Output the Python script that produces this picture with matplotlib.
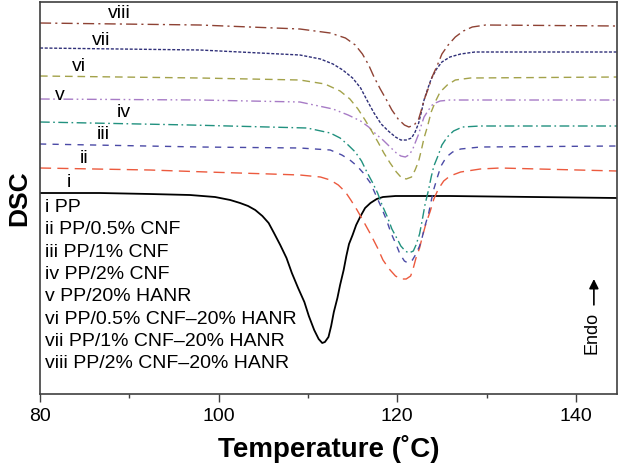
import matplotlib
matplotlib.use("Agg")
import matplotlib.pyplot as plt
from matplotlib.ticker import MultipleLocator

plt.rcParams['font.family'] = ['Liberation Sans', 'DejaVu Sans']

# DSC cooling curves (arbitrary units, stacked)
temp_i = [80.0, 86.7, 92.3, 96.8, 99.6, 101.3, 102.4, 103.3, 104.1, 104.9, 105.6, 106.2,
          106.9, 107.6, 108.2, 108.9, 109.6, 110.1, 110.7, 111.2, 111.6, 111.9, 112.3, 112.6,
          112.9, 113.3, 113.6, 114.0, 114.3, 114.6, 115.0, 115.4, 115.9, 116.4, 117.0, 117.7,
          118.4, 119.8, 125.9, 144.6]
dsc_i = [20.1, 20.1, 20.0, 19.9, 19.7, 19.4, 19.1, 18.8, 18.4, 17.8, 17.1, 16.1,
         14.9, 13.6, 12.1, 10.6, 9.2, 7.8, 6.4, 5.5, 5.1, 5.2, 5.7, 6.8,
         8.2, 9.6, 10.9, 12.4, 13.8, 15.0, 15.9, 16.9, 17.8, 18.6, 19.1, 19.5,
         19.7, 19.8, 19.8, 19.6]

temp_ii = [80.0, 92.3, 98.7, 105.8, 109.1, 111.4, 112.5, 113.4, 114.2, 114.8, 115.5, 116.2,
           117.0, 117.8, 118.4, 119.1, 119.8, 120.4, 121.0, 121.5, 121.8, 122.1, 122.5, 122.8,
           123.2, 123.7, 124.1, 124.6, 125.2, 125.9, 127.1, 129.3, 131.5, 144.6]
dsc_ii = [22.6, 22.4, 22.2, 22.0, 21.9, 21.7, 21.4, 20.9, 20.2, 19.4, 18.4, 17.3,
          16.0, 14.6, 13.4, 12.5, 11.8, 11.5, 11.5, 11.8, 12.6, 13.6, 14.6, 15.7,
          17.0, 18.3, 19.5, 20.5, 21.3, 21.8, 22.2, 22.5, 22.6, 22.3]

temp_iii = [80.0, 97.9, 109.1, 112.5, 113.8, 114.7, 115.5, 116.2, 117.0, 117.6, 118.2, 118.8,
            119.3, 119.9, 120.3, 120.8, 121.2, 121.7, 122.1, 122.5, 122.8, 123.1, 123.5, 123.8,
            124.1, 124.5, 124.9, 125.5, 126.2, 127.1, 129.3, 144.6]
dsc_iii = [25.0, 24.7, 24.6, 24.4, 23.9, 23.4, 22.8, 22.1, 21.1, 19.9, 18.7, 17.4,
           16.1, 14.9, 14.0, 13.3, 13.1, 13.4, 14.0, 14.8, 15.7, 16.8, 18.0, 19.3,
           20.5, 21.7, 22.8, 23.7, 24.2, 24.5, 24.7, 24.8]

temp_iv = [80.0, 96.8, 109.9, 112.5, 113.6, 114.5, 115.3, 116.0, 116.6, 117.2, 117.8, 118.3,
           118.9, 119.4, 120.0, 120.4, 120.9, 121.3, 121.8, 122.1, 122.5, 122.8, 123.1, 123.5,
           123.8, 124.1, 124.6, 125.0, 125.6, 126.3, 127.3, 129.3, 144.6]
dsc_iv = [27.2, 26.9, 26.6, 26.1, 25.6, 24.9, 24.2, 23.3, 22.2, 21.2, 20.1, 18.9,
          17.7, 16.5, 15.5, 14.8, 14.3, 14.1, 14.3, 14.9, 16.0, 17.4, 18.9, 20.4,
          21.7, 22.8, 23.9, 24.9, 25.7, 26.3, 26.7, 26.8, 26.8]

temp_v = [80.0, 97.9, 109.1, 112.8, 114.5, 115.9, 116.8, 117.6, 118.4, 119.2, 119.9, 120.4,
          120.9, 121.3, 121.7, 122.0, 122.4, 122.7, 123.0, 123.5, 124.0, 124.8, 125.9, 144.6]
dsc_v = [29.5, 29.4, 29.2, 28.5, 27.9, 27.3, 26.7, 26.0, 25.4, 24.7, 24.1, 23.8,
         23.7, 23.9, 24.4, 25.1, 26.0, 26.9, 27.7, 28.4, 29.0, 29.3, 29.4, 29.4]

temp_vi = [80.0, 97.9, 109.1, 111.9, 113.6, 114.7, 115.6, 116.4, 117.2, 117.9, 118.5, 119.2,
           119.9, 120.4, 121.0, 121.6, 122.0, 122.4, 122.7, 123.0, 123.4, 123.8, 124.3, 124.8,
           125.6, 126.5, 128.2, 144.6]
dsc_vi = [31.8, 31.6, 31.4, 31.0, 30.3, 29.5, 28.5, 27.4, 26.2, 25.1, 24.1, 23.1,
          22.2, 21.7, 21.5, 21.7, 22.4, 23.3, 24.4, 25.6, 26.8, 28.2, 29.3, 30.2,
          30.9, 31.4, 31.6, 31.7]

temp_vii = [80.0, 97.9, 109.1, 111.4, 112.8, 113.9, 115.0, 115.9, 116.6, 117.4, 118.2, 119.0,
            119.8, 120.4, 121.0, 121.6, 122.0, 122.4, 122.7, 123.0, 123.4, 123.8, 124.4, 125.0,
            125.9, 127.1, 128.7, 144.6]
dsc_vii = [34.6, 34.4, 33.9, 33.5, 33.0, 32.4, 31.6, 30.6, 29.4, 28.1, 27.0, 26.3,
           25.7, 25.4, 25.4, 25.6, 26.2, 27.1, 28.2, 29.4, 30.5, 31.5, 32.5, 33.2,
           33.7, 34.0, 34.2, 34.2]

temp_viii = [80.0, 97.9, 109.1, 112.5, 114.2, 115.3, 116.1, 116.8, 117.4, 118.1, 118.8, 119.4,
             120.1, 120.8, 121.3, 121.9, 122.4, 122.7, 123.0, 123.5, 123.9, 124.5, 125.0, 125.7,
             126.5, 127.4, 128.4, 129.9, 144.6]
dsc_viii = [37.1, 36.9, 36.5, 36.1, 35.6, 34.9, 34.0, 32.9, 31.7, 30.5, 29.4, 28.4,
            27.5, 26.9, 26.7, 26.9, 27.5, 28.4, 29.4, 30.6, 31.7, 32.9, 34.0, 34.9,
            35.7, 36.3, 36.7, 36.9, 36.8]

numerals = ["i", "ii", "iii", "iv", "v", "vi", "vii", "viii"]
samples = ["PP", "PP/0.5% CNF", "PP/1% CNF", "PP/2% CNF", "PP/20% HANR",
           "PP/0.5% CNF\u201320% HANR", "PP/1% CNF\u201320% HANR", "PP/2% CNF\u201320% HANR"]
# where the roman numeral tags sit next to each curve
tag_temp = [83.2, 84.9, 87.1, 89.4, 82.2, 84.4, 86.9, 88.9]
tag_dsc = [21.2, 23.6, 26.0, 28.2, 29.9, 32.8, 35.4, 38.1]

curves = [(temp_i, dsc_i), (temp_ii, dsc_ii), (temp_iii, dsc_iii), (temp_iv, dsc_iv),
          (temp_v, dsc_v), (temp_vi, dsc_vi), (temp_vii, dsc_vii), (temp_viii, dsc_viii)]
colors = ["black", "#ec5a3e", "#4b4aa6", "#21917f", "#a77bc6", "#a3a24a", "#2f2f78", "#8e4234"]
dashes = [None, (8, 4.5), (4.5, 4.5), (7, 2.5, 1.2, 2.5), (7, 2.5, 1.2, 2.5, 1.2, 2.5),
          (5.5, 3.5), (2.2, 1.2), (8, 3, 1.5, 3)]

fig = plt.figure(figsize=(6.2, 4.7), dpi=100)
ax = fig.add_axes([0.0645, 0.1617, 0.9306, 0.8351])

for (t, d), c, ds in zip(curves, colors, dashes):
    if ds is None:
        ax.plot(t, d, color=c, lw=1.3, solid_joinstyle="round")
    else:
        ax.plot(t, d, color=c, lw=1.0, dashes=ds)

for name, x, y in zip(numerals, tag_temp, tag_dsc):
    ax.text(x, y, name, fontsize=14, ha="center", va="center")

for k, (name, s) in enumerate(zip(numerals, samples)):
    ax.text(0.009, 0.475 - k * 0.0568, name + " " + s, transform=ax.transAxes,
            fontsize=14, ha="left", va="center")

# Endo arrow
ax.text(0.956, 0.155, "Endo", transform=ax.transAxes, rotation=90, fontsize=13,
        ha="center", va="center")
ax.annotate("", xy=(0.96, 0.3), xytext=(0.96, 0.22), xycoords="axes fraction",
            arrowprops=dict(arrowstyle="-|>", color="black", lw=1.2, mutation_scale=14))

ax.set_xlim(80, 144.6)
ax.set_ylim(0, 39.25)
ax.xaxis.set_major_locator(MultipleLocator(20))
ax.xaxis.set_minor_locator(MultipleLocator(10))
ax.tick_params(axis="x", which="major", direction="out", length=6, width=1, labelsize=14,
               color="#404040", pad=4)
ax.tick_params(axis="x", which="minor", direction="out", length=3, width=1, color="#404040")
ax.set_yticks([])
for sp in ax.spines.values():
    sp.set_color("#404040")
    sp.set_linewidth(1.2)

ax.set_xlabel("Temperature (\u02daC)", fontsize=20, fontweight="bold", labelpad=7)
ax.set_ylabel("DSC", fontsize=19, fontweight="bold", labelpad=6)

fig.savefig("out.png", dpi=100)
